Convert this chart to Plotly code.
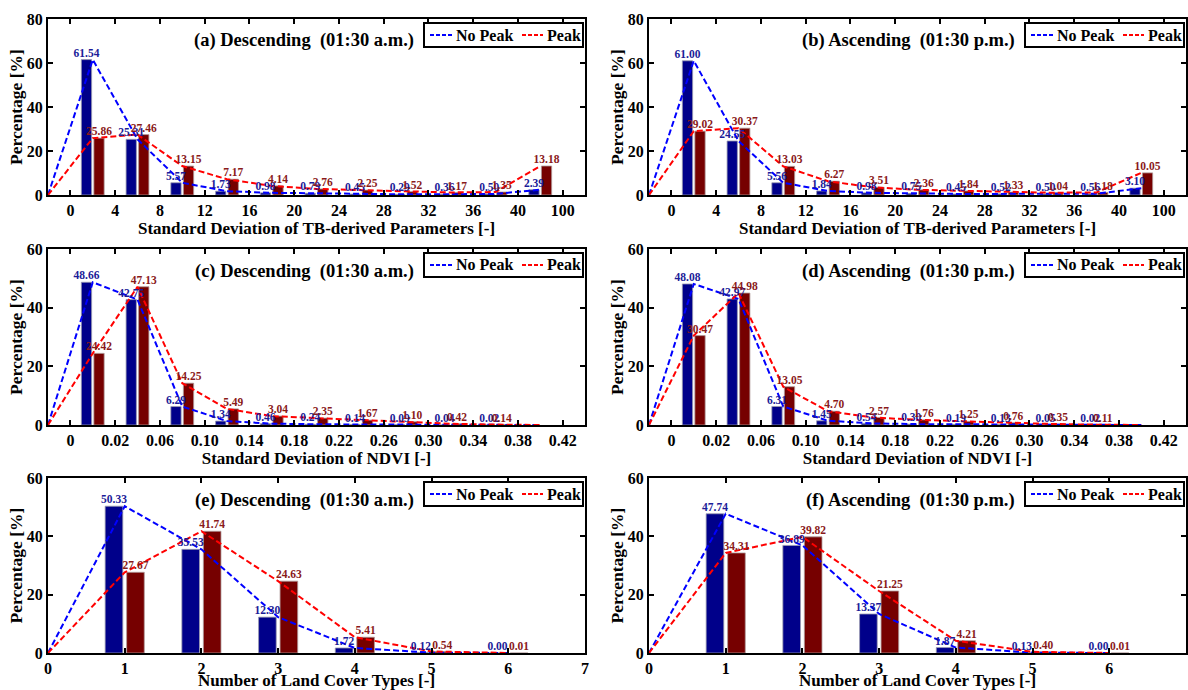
import plotly.graph_objects as go

# ---------------- data ----------------
tb_ticks = ['0', '4', '8', '12', '16', '20', '24', '28', '32', '36', '40', '100']
ndvi_ticks = ['0', '0.02', '0.06', '0.10', '0.14', '0.18', '0.22', '0.26', '0.30', '0.34', '0.38', '0.42']
lc_ticks = ['0', '1', '2', '3', '4', '5', '6', '7']

a_nopeak = [61.54, 25.31, 5.57, 1.73, 0.98, 0.79, 0.45, 0.29, 0.36, 0.50, 2.39]
a_peak = [25.86, 27.46, 13.15, 7.17, 4.14, 2.76, 2.25, 1.52, 1.17, 1.35, 13.18]
b_nopeak = [61.00, 24.55, 5.56, 1.84, 0.98, 0.75, 0.45, 0.52, 0.50, 0.56, 3.10]
b_peak = [29.02, 30.37, 13.03, 6.27, 3.51, 2.36, 1.84, 1.33, 1.04, 1.18, 10.05]

c_nopeak = [48.66, 42.75, 6.29, 1.34, 0.46, 0.24, 0.14, 0.09, 0.04, 0.02]
c_peak = [24.42, 47.13, 14.25, 5.49, 3.04, 2.35, 1.67, 1.10, 0.42, 0.14]
d_nopeak = [48.08, 42.97, 6.31, 1.45, 0.54, 0.30, 0.19, 0.13, 0.05, 0.02]
d_peak = [30.47, 44.98, 13.05, 4.70, 2.57, 1.76, 1.25, 0.76, 0.35, 0.11]
ndvi_tail = [0.0]  # last (empty) class, only reached by the lines

e_nopeak = [50.33, 35.53, 12.30, 1.72, 0.12, 0.00]
e_peak = [27.67, 41.74, 24.63, 5.41, 0.54, 0.01]
f_nopeak = [47.74, 36.89, 13.37, 1.87, 0.13, 0.00]
f_peak = [34.31, 39.82, 21.25, 4.21, 0.40, 0.01]

series_names = ['No Peak', 'Peak']
titles = ['(a) Descending  (01:30 a.m.)', '(b) Ascending  (01:30 p.m.)',
          '(c) Descending  (01:30 a.m.)', '(d) Ascending  (01:30 p.m.)',
          '(e) Descending  (01:30 a.m.)', '(f) Ascending  (01:30 p.m.)']
xtitles = ['Standard Deviation of TB-derived Parameters [-]'] * 2 + \
          ['Standard Deviation of NDVI [-]'] * 2 + ['Number of Land Cover Types [-]'] * 2

# ---------------- styling ----------------
FONT = 'Liberation Serif'
W, H = 1188, 690
BLUE_BAR, RED_BAR = '#00008a', '#760000'
BLUE_LINE, RED_LINE = '#0000ff', '#ff0000'
BLUE_TXT, RED_TXT = '#1c1c98', '#8a1a1a'
DASH = '6px,3px'

cols_px = [(48, 585), (649, 1186)]
rows_px = [(19, 195), (249, 425), (478, 653)]

panels = [
    dict(nop=a_nopeak, pk=a_peak, ticks=tb_ticks, step=4, tail=[], ymax=80),
    dict(nop=b_nopeak, pk=b_peak, ticks=tb_ticks, step=4, tail=[], ymax=80),
    dict(nop=c_nopeak, pk=c_peak, ticks=ndvi_ticks, step=4, tail=ndvi_tail, ymax=60),
    dict(nop=d_nopeak, pk=d_peak, ticks=ndvi_ticks, step=4, tail=ndvi_tail, ymax=60),
    dict(nop=e_nopeak, pk=e_peak, ticks=lc_ticks, step=1, tail=[], ymax=60),
    dict(nop=f_nopeak, pk=f_peak, ticks=lc_ticks, step=1, tail=[], ymax=60),
]


def px(xp):
    return xp / W


def py(yp):
    return 1 - yp / H


fig = go.Figure()
layout = dict(
    template='none',
    width=W, height=H, margin=dict(l=0, r=0, t=0, b=0, autoexpand=False),
    paper_bgcolor='white', plot_bgcolor='white',
    barmode='overlay', showlegend=False,
    font=dict(family=FONT, size=16, color='black', weight='bold'),
)
annotations = []
shapes = []

for k, p in enumerate(panels):
    n = k + 1
    sfx = '' if n == 1 else str(n)
    xref, yref = 'x' + sfx, 'y' + sfx
    r, c = divmod(k, 2)
    x0, x1 = cols_px[c]
    top, bot = rows_px[r]

    step = p['step']
    if step == 4:
        centers = [2 + 4 * i for i in range(len(p['nop']))]
        xr = [-2, 46]
        tickvals = [4 * i for i in range(len(p['ticks']))]
    else:
        centers = [1 + i for i in range(len(p['nop']))]
        xr = [0, 7]
        tickvals = list(range(len(p['ticks'])))
    off = 0.14 * step
    bw = 0.23 * step
    xb = [cc - off for cc in centers]
    xrd = [cc + off for cc in centers]
    line_x = [centers[0] - step] + centers + [centers[-1] + step * (i + 1) for i in range(len(p['tail']))]

    fig.add_trace(go.Bar(x=xb, y=p['nop'], width=bw, name=series_names[0],
                         marker=dict(color=BLUE_BAR, line=dict(color='#9a9ab0', width=0.8)),
                         xaxis=xref, yaxis=yref, hoverinfo='skip'))
    fig.add_trace(go.Bar(x=xrd, y=p['pk'], width=bw, name=series_names[1],
                         marker=dict(color=RED_BAR, line=dict(color='#b09a9a', width=0.8)),
                         xaxis=xref, yaxis=yref, hoverinfo='skip'))
    fig.add_trace(go.Scatter(x=line_x, y=[0] + p['nop'] + p['tail'], mode='lines', name=series_names[0],
                             line=dict(color=BLUE_LINE, width=2, dash=DASH),
                             xaxis=xref, yaxis=yref))
    fig.add_trace(go.Scatter(x=line_x, y=[0] + p['pk'] + p['tail'], mode='lines', name=series_names[1],
                             line=dict(color=RED_LINE, width=2, dash=DASH),
                             xaxis=xref, yaxis=yref))
    fig.add_trace(go.Scatter(x=xb, y=p['nop'], mode='text', text=[f'{v:.2f}' for v in p['nop']],
                             textposition='top center',
                             textfont=dict(family=FONT, size=11.5, color=BLUE_TXT, weight='bold'),
                             xaxis=xref, yaxis=yref, cliponaxis=False))
    fig.add_trace(go.Scatter(x=xrd, y=p['pk'], mode='text', text=[f'{v:.2f}' for v in p['pk']],
                             textposition='top center',
                             textfont=dict(family=FONT, size=11.5, color=RED_TXT, weight='bold'),
                             xaxis=xref, yaxis=yref, cliponaxis=False))

    axis_common = dict(showline=True, linewidth=2, linecolor='black', mirror='ticks',
                       ticks='inside', ticklen=5, tickwidth=2, tickcolor='black',
                       showgrid=False, zeroline=False, automargin=False,
                       tickfont=dict(family=FONT, size=16, color='black', weight='bold'))
    layout['xaxis' + sfx] = dict(axis_common, domain=[px(x0), px(x1)], range=xr, anchor=yref,
                                 tickmode='array', tickvals=tickvals, ticktext=p['ticks'],
                                 title=dict(text=xtitles[k], standoff=2,
                                            font=dict(family=FONT, size=17, weight='bold')))
    layout['yaxis' + sfx] = dict(axis_common, domain=[py(bot), py(top)], range=[0, p['ymax']], anchor=xref,
                                 tickmode='linear', tick0=0, dtick=20,
                                 title=dict(text='Percentage [%]', standoff=0,
                                            font=dict(family=FONT, size=17.5, weight='bold')))

    # panel title
    annotations.append(dict(text=titles[k], xref='paper', yref='paper',
                            x=px(x0 + 0.685 * (x1 - x0)), y=py(top + 22),
                            xanchor='right', yanchor='middle', showarrow=False,
                            font=dict(family=FONT, size=18.5, color='black', weight='bold')))
    # legend box (MATLAB style)
    ly = top + 16
    shapes.append(dict(type='rect', xref='paper', yref='paper',
                       x0=px(x1 - 161), x1=px(x1 - 2), y0=py(top + 28), y1=py(top + 4),
                       line=dict(color='black', width=2), fillcolor='white', layer='above'))
    for (lx0, lx1, tx, col, name) in [(x1 - 155, x1 - 133, x1 - 131, BLUE_LINE, series_names[0]),
                                      (x1 - 63, x1 - 42, x1 - 40, RED_LINE, series_names[1])]:
        shapes.append(dict(type='line', xref='paper', yref='paper',
                           x0=px(lx0), x1=px(lx1), y0=py(ly), y1=py(ly),
                           line=dict(color=col, width=2, dash='4px,2px'), layer='above'))
        annotations.append(dict(text=name, xref='paper', yref='paper', x=px(tx), y=py(ly),
                                xanchor='left', yanchor='middle', showarrow=False,
                                font=dict(family=FONT, size=16, color='black', weight='bold')))

layout['annotations'] = annotations
layout['shapes'] = shapes
fig.update_layout(**layout)
fig.update_traces(showlegend=False)
fig.write_html('out.html', config={'displayModeBar': False},
               post_script="document.body.style.margin='0px';document.body.style.overflow='hidden';")
